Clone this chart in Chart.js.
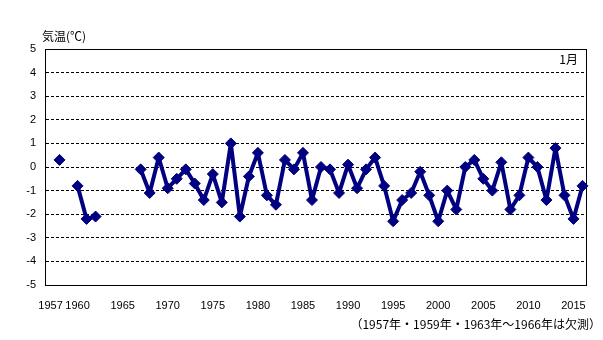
<!DOCTYPE html>
<html>
<head>
<meta charset="utf-8">
<script src="https://cdn.jsdelivr.net/npm/chart.js@4/dist/chart.umd.min.js"></script>
<style>
  body { margin: 0; background: #fff; }
  canvas { display: block; }
</style>
</head>
<body>
<canvas id="tempChart" width="603" height="340"></canvas>
<script>
// January temperature anomaly (°C), null = no observation
const years = [];
for (let y = 1957; y <= 2016; y++) years.push(y);

const temps = [
  null, 0.3, null, -0.8, -2.2, -2.1, null, null, null, null,   // 1957-1966
  -0.1, -1.1, 0.4, -0.9, -0.5, -0.1, -0.7, -1.4, -0.3, -1.5,   // 1967-1976
  1.0, -2.1, -0.4, 0.6, -1.2, -1.6, 0.3, -0.1, 0.6, -1.4,      // 1977-1986
  0.0, -0.1, -1.1, 0.1, -0.9, -0.1, 0.4, -0.8, -2.3, -1.4,     // 1987-1996
  -1.1, -0.2, -1.2, -2.3, -1.0, -1.8, 0.0, 0.3, -0.5, -1.0,    // 1997-2006
  0.2, -1.8, -1.2, 0.4, 0.0, -1.4, 0.8, -1.2, -2.2, -0.8       // 2007-2016
];

const yearTicks = [1957, 1960, 1965, 1970, 1975, 1980, 1985, 1990, 1995, 2000, 2005, 2010, 2015];

const navy = '#000080';
const tickFont = { family: 'Liberation Sans', size: 11 };
const jpFont = '12px "Noto Sans CJK JP"';

// frame around the plot plus the axis caption, month tag and footnote
const decorations = {
  id: 'decorations',
  beforeDatasetsDraw(chart) {
    const { ctx, chartArea: a } = chart;
    ctx.save();
    ctx.strokeStyle = '#000';
    ctx.lineWidth = 1;
    ctx.setLineDash([]);
    ctx.strokeRect(Math.round(a.left) - 0.5, Math.round(a.top) + 0.5,
                   Math.round(a.right - a.left), Math.round(a.bottom - a.top));
    ctx.restore();
  },
  afterDraw(chart) {
    const { ctx, chartArea: a } = chart;
    ctx.save();
    ctx.fillStyle = '#000';
    ctx.font = jpFont;
    ctx.textBaseline = 'middle';
    ctx.textAlign = 'left';
    ctx.fillText('気温(℃)', 42, 36);
    ctx.textAlign = 'right';
    ctx.fillText('1月', a.right - 9, a.top + 10);
    ctx.fillText('（1957年・1959年・1963年～1966年は欠測）', 601, 324);
    ctx.restore();
  }
};

new Chart(document.getElementById('tempChart'), {
  type: 'line',
  data: {
    labels: years,
    datasets: [{
      data: temps,
      borderColor: navy,
      borderWidth: 4,
      borderJoinStyle: 'round',
      borderCapStyle: 'round',
      backgroundColor: navy,
      pointStyle: 'rectRot',
      pointRadius: 5.5,
      pointBorderWidth: 1,
      pointBorderColor: navy,
      pointBackgroundColor: navy,
      spanGaps: false,
      tension: 0
    }]
  },
  options: {
    responsive: false,
    animation: false,
    layout: { padding: { left: 0, top: 49, right: 16, bottom: 0 } },
    plugins: {
      legend: { display: false },
      tooltip: { enabled: false }
    },
    scales: {
      x: {
        type: 'category',
        offset: true,
        grid: { display: false },
        border: { display: false },
        ticks: {
          autoSkip: false,
          maxRotation: 0,
          color: '#000',
          font: tickFont,
          padding: 6,
          callback(value, index) {
            const yr = years[index];
            return yearTicks.includes(yr) ? String(yr) : '';
          }
        },
        afterFit(scale) { scale.height = 55; }
      },
      y: {
        min: -5,
        max: 5,
        border: { display: false, dash: [3, 2] },
        grid: {
          drawTicks: false,
          color: ctx => (Math.abs(ctx.tick.value) === 5 ? 'rgba(0,0,0,0)' : '#000'),
          lineWidth: 1
        },
        ticks: {
          stepSize: 1,
          color: '#000',
          font: tickFont,
          padding: 10
        },
        afterFit(scale) { scale.width = 46; }
      }
    }
  },
  plugins: [decorations]
});
</script>
</body>
</html>
